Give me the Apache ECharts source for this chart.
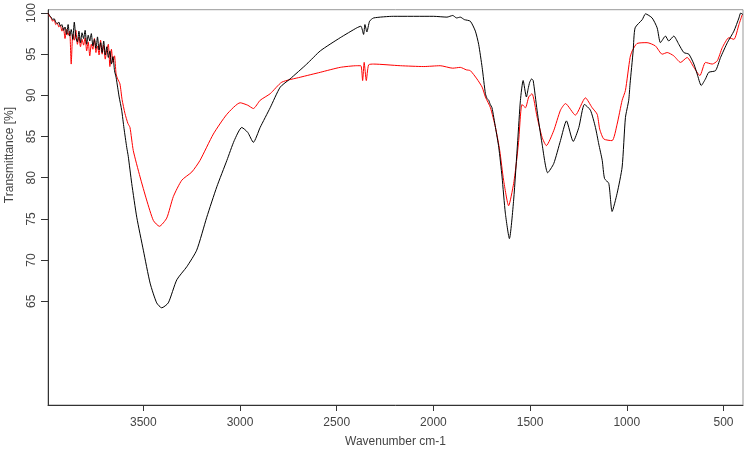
<!DOCTYPE html>
<html>
<head>
<meta charset="utf-8">
<script src="https://cdn.jsdelivr.net/npm/echarts@6/dist/echarts.min.js"></script>
<style>
  html, body { margin: 0; padding: 0; background: #fff; }
  #chart { width: 748px; height: 455px; }
</style>
</head>
<body>
<div id="chart"></div>
<script>
var xTicks = [3500, 3000, 2500, 2000, 1500, 1000, 500];
var yTicks = [65, 70, 75, 80, 85, 90, 95, 100];

// [wavenumber, transmittance %]
var blackSample = [
  [3993,100],[3985,99.7],[3977,99.5],[3969,99.2],[3961,99.3],[3953,98.9],[3945,98.7],[3937,98.9],
  [3929,98.4],[3921,98.6],[3913,97.9],[3905,98.3],[3897,97.4],[3889,98.6],[3881,97.2],[3873,98.0],
  [3865,96.8],[3857,98.9],[3849,97.0],[3841,96.5],[3833,97.8],[3825,96.4],[3817,97.6],[3809,96.9],
  [3801,97.9],[3793,96.2],[3785,97.3],[3777,96.6],[3769,97.5],[3761,96.0],[3753,96.8],[3745,95.7],
  [3737,97.1],[3729,95.5],[3721,96.4],[3713,95.2],[3705,96.6],[3697,94.9],[3689,95.9],[3681,94.6],
  [3673,95.4],[3665,93.8],[3657,94.7],[3649,93.0],[3641,92.2],[3633,91.0],[3625,89.8],[3612,88.2],
  [3600,86.0],[3586,83.7],[3578,82.6],[3560,79.3],[3534,75.2],[3500,71.2],[3465,67.2],[3431,64.8],
  [3405,64.2],[3371,64.8],[3327,67.6],[3275,69.2],[3224,71.2],[3172,75.2],[3120,78.9],[3068,82.1],
  [3030,84.5],[2991,86.1],[2960,85.5],[2931,84.3],[2896,86.1],[2844,88.5],[2792,91.0],[2741,92.0],
  [2655,93.8],[2585,95.4],[2482,97.0],[2396,98.2],[2375,98.4],[2361,97.4],[2354,98.6],[2344,97.7],
  [2330,99.0],[2309,99.4],[2206,99.6],[2000,99.6],[1930,99.5],[1900,99.7],[1880,99.4],[1861,99.5],
  [1840,99.2],[1809,99.0],[1783,97.8],[1766,96.2],[1748,93.4],[1731,90.2],[1722,89.6],[1714,89.4],
  [1706,88.9],[1697,88.5],[1679,86.1],[1662,83.7],[1645,80.1],[1628,75.7],[1607,72.6],[1585,77.3],
  [1564,84.5],[1550,89.4],[1536,91.8],[1519,89.8],[1510,90.8],[1502,91.6],[1492,92.0],[1484,91.8],
  [1464,88.2],[1438,84.1],[1409,80.6],[1378,81.7],[1343,84.5],[1312,86.9],[1277,84.4],[1248,86.1],
  [1219,88.9],[1188,88.2],[1162,86.1],[1145,84.1],[1127,82.1],[1115,79.9],[1093,79.3],[1076,75.9],
  [1050,78.1],[1024,81.3],[1007,87.3],[990,89.4],[983,91.4],[967,95.4],[957,98.2],[920,99.2],
  [903,99.9],[869,99.4],[843,98.2],[826,96.4],[800,97.2],[783,96.6],[757,97.2],[731,96.2],
  [705,95.2],[679,95.0],[653,93.8],[636,92.6],[615,91.2],[593,92.0],[576,92.8],[541,93.0],
  [515,94.6],[480,96.4],[446,97.8],[420,99.4],[411,100],[399,99.8]
];

var redSample = [
  [3993,100],[3985,99.6],[3977,99.4],[3969,99.0],[3961,99.2],[3953,98.6],[3945,98.8],[3937,98.3],
  [3929,98.5],[3921,97.8],[3913,98.2],[3905,96.9],[3897,98.0],[3889,97.3],[3881,97.8],[3873,93.8],
  [3865,97.4],[3857,96.7],[3849,97.9],[3841,96.2],[3833,97.1],[3825,95.9],[3817,96.8],[3809,96.1],
  [3801,97.0],[3793,95.4],[3785,96.5],[3777,94.8],[3769,96.2],[3761,95.6],[3753,96.9],[3745,95.2],
  [3737,96.0],[3729,94.9],[3721,96.7],[3713,95.0],[3705,96.1],[3697,94.4],[3689,95.5],[3681,96.2],
  [3673,93.5],[3665,95.6],[3657,94.0],[3649,94.8],[3641,92.6],[3633,92.0],[3621,91.4],[3610,89.5],
  [3595,87.8],[3580,86.6],[3569,86.1],[3552,83.3],[3517,80.1],[3483,77.3],[3448,74.8],[3417,74.1],
  [3379,75.1],[3345,77.7],[3301,79.7],[3249,80.7],[3207,82.1],[3138,85.3],[3068,87.7],[2999,89.1],
  [2960,88.8],[2931,88.4],[2896,89.4],[2844,90.2],[2784,91.6],[2689,92.2],[2585,92.8],[2482,93.4],
  [2396,93.6],[2375,93.6],[2366,91.8],[2358,94.0],[2347,91.8],[2335,93.7],[2309,93.8],[2171,93.6],
  [2050,93.5],[1965,93.6],[1900,93.3],[1861,93.4],[1830,93.1],[1809,93.0],[1775,92.0],[1748,91.0],
  [1731,89.8],[1705,88.5],[1679,86.1],[1657,83.3],[1637,79.7],[1611,76.6],[1585,79.3],[1570,82.0],
  [1559,84.5],[1542,88.9],[1524,88.5],[1507,89.8],[1490,90.2],[1464,87.4],[1438,84.9],[1416,83.9],
  [1378,85.7],[1343,88.2],[1317,89.0],[1266,87.6],[1214,89.7],[1179,88.5],[1153,87.7],[1140,85.9],
  [1119,84.7],[1076,84.5],[1050,86.5],[1024,89.4],[1007,90.6],[983,94.6],[972,95.4],[947,96.3],
  [895,96.4],[852,96.0],[817,95.0],[791,95.2],[757,94.8],[722,94.0],[688,94.6],[653,93.4],
  [622,92.4],[593,94.0],[558,93.8],[532,94.2],[506,95.8],[472,97.0],[446,96.8],[420,98.6],[403,99.8]
];

var chart = echarts.init(document.getElementById('chart'), null, { renderer: 'canvas' });
var fontFam = '"Liberation Sans", Arial, sans-serif';
chart.setOption({
  animation: false,
  backgroundColor: '#ffffff',
  grid: { left: 48, right: 5, top: 9, bottom: 50, show: true, borderColor: '#999999', borderWidth: 1, backgroundColor: 'transparent' },
  xAxis: {
    type: 'value', inverse: true, min: 399, max: 3993,
    name: 'Wavenumber cm-1', nameLocation: 'middle', nameGap: 31,
    nameTextStyle: { fontFamily: fontFam, fontSize: 12, color: '#444' },
    axisLine: { show: true, onZero: false, lineStyle: { color: '#333', width: 1 } },
    axisTick: { show: true, length: 6, customValues: xTicks, lineStyle: { color: '#333' } },
    axisLabel: { customValues: xTicks, margin: 12, fontFamily: fontFam, fontSize: 12, color: '#444',
      formatter: function (v) { return String(v); } },
    splitLine: { show: false }
  },
  yAxis: {
    type: 'value', min: 52.4, max: 100.4,
    axisLine: { show: true, onZero: false, lineStyle: { color: '#333', width: 1 } },
    axisTick: { show: true, length: 7, customValues: yTicks, lineStyle: { color: '#333' } },
    axisLabel: { customValues: yTicks, rotate: 90, margin: 10, fontFamily: fontFam, fontSize: 12, color: '#444',
      formatter: function (v) { return String(v); } },
    splitLine: { show: false }
  },
  graphic: [{
    type: 'text', x: 10, y: 155, rotation: Math.PI / 2,
    style: { text: 'Transmittance [%]', fontFamily: fontFam, fontSize: 12, fill: '#444', align: 'center', verticalAlign: 'middle' }
  }],
  series: [
    { type: 'line', data: redSample, showSymbol: false, smooth: 0.2, lineStyle: { color: '#ff0000', width: 1 }, z: 2 },
    { type: 'line', data: blackSample, showSymbol: false, smooth: 0.2, lineStyle: { color: '#000000', width: 1 }, z: 3 }
  ]
});
</script>
</body>
</html>
